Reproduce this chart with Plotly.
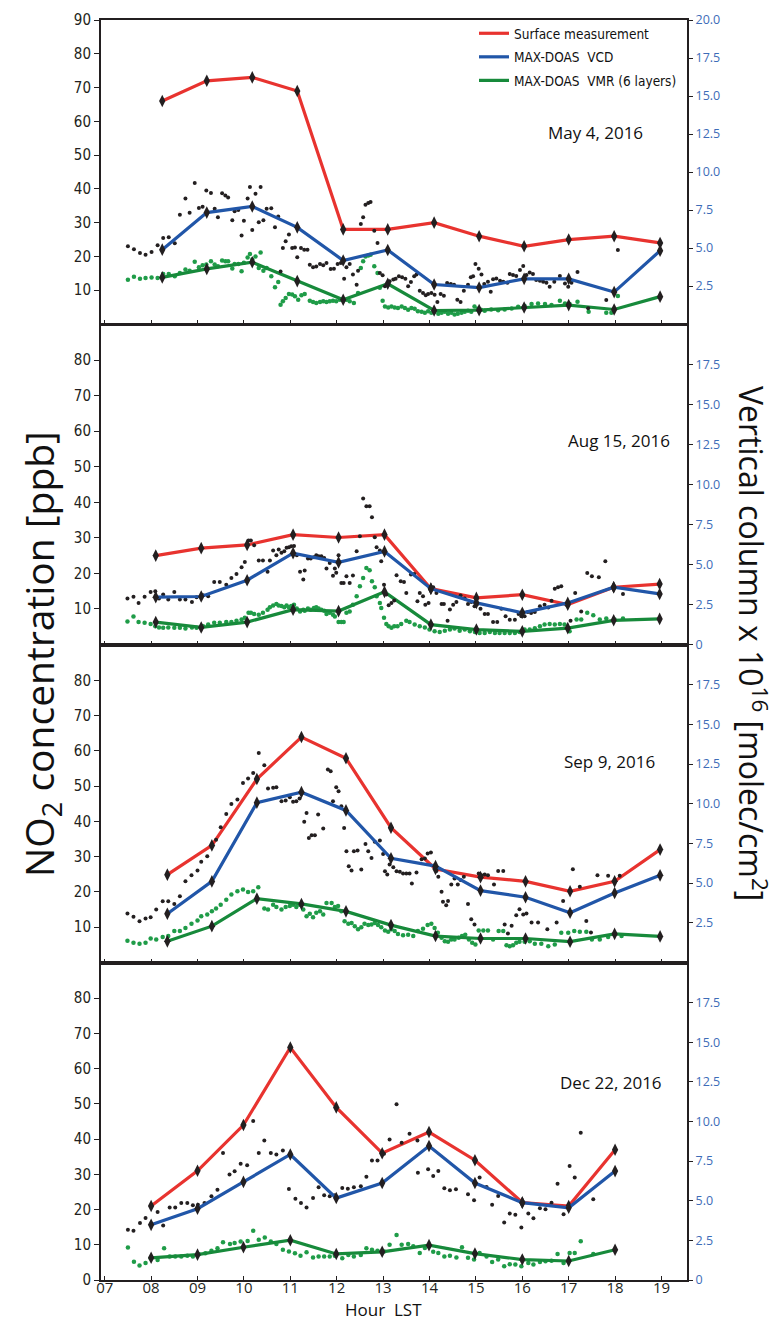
import plotly.graph_objects as go

# ---------------- data ----------------
HOUR_TICKS = list(range(7, 20))
HOUR_LABELS = [f"{h:02d}" for h in HOUR_TICKS]

PANEL_DATES = ["May 4, 2016", "Aug 15, 2016", "Sep 9, 2016", "Dec 22, 2016"]

# hourly means: surface NO2 (ppb), MAX-DOAS VCD (1e16 molec/cm2), MAX-DOAS VMR (ppb)
may_hours = [8.24, 9.20, 10.18, 11.15, 12.14, 13.10, 14.10, 15.07, 16.04, 17.00, 17.98, 18.97]
may_surface = [66, 72, 73, 69, 28, 28, 30, 26, 23, 25, 26, 24]
may_vcd = [4.89, 7.33, 7.73, 6.36, 4.18, 4.87, 2.60, 2.40, 2.97, 2.97, 2.10, 4.82]
may_vmr = [13.8, 16.3, 18.3, 12.7, 7.2, 11.9, 4.0, 4.1, 4.9, 5.6, 4.3, 8.1]

aug_hours = [8.10, 9.08, 10.07, 11.06, 12.04, 13.03, 14.03, 15.01, 16.00, 16.98, 17.97, 18.96]
aug_surface = [25.0, 27.1, 28.0, 30.9, 30.1, 30.9, 15.7, 13.1, 14.0, 11.2, 16.1, 17.0]
aug_vcd = [2.96, 3.00, 4.02, 5.71, 5.13, 5.82, 3.49, 2.60, 1.98, 2.60, 3.58, 3.16]
aug_vmr = [6.3, 4.8, 6.3, 9.8, 9.4, 14.8, 5.6, 4.2, 3.7, 4.6, 6.8, 7.2]

sep_hours = [8.35, 9.31, 10.28, 11.24, 12.20, 13.17, 14.13, 15.10, 16.07, 17.03, 17.99, 18.97]
sep_surface = [24.9, 33.2, 52.0, 63.9, 57.9, 38.2, 26.5, 24.2, 23.0, 20.2, 23.0, 32.0]
sep_vcd = [3.07, 5.11, 10.07, 10.73, 9.58, 6.56, 6.07, 4.53, 4.11, 3.13, 4.38, 5.49]
sep_vmr = [6.0, 10.3, 18.1, 16.6, 14.5, 10.6, 7.5, 6.8, 6.8, 5.9, 8.1, 7.4]

dec_hours = [8.00, 9.00, 9.99, 11.00, 11.99, 12.98, 13.99, 14.98, 16.00, 17.00, 18.00]
dec_surface = [21, 31, 44, 66, 49, 36, 42, 34, 22, 21, 37]
dec_vcd = [3.48, 4.50, 6.19, 7.92, 5.17, 6.12, 8.45, 6.12, 4.88, 4.56, 6.87]
dec_vmr = [6.3, 7.2, 9.3, 11.3, 7.4, 8.0, 9.9, 7.5, 5.8, 5.4, 8.6]

# individual MAX-DOAS measurements: (hour, VCD) and (hour, VMR ppb)
may_vcd_obs = [
    (7.50, 5.11), (7.63, 4.91), (7.76, 4.67), (7.88, 4.56), (8.01, 4.74), (8.14, 5.18), (8.26, 5.66), (8.38, 5.70),
    (8.51, 5.31), (8.62, 7.19), (8.74, 8.25), (8.83, 7.32), (8.94, 9.28), (9.03, 7.63), (9.11, 7.72), (9.19, 8.79),
    (9.29, 8.62), (9.37, 7.59), (9.44, 7.02), (9.53, 8.60), (9.60, 8.46), (9.66, 8.33), (9.75, 6.82), (9.80, 7.41),
    (9.88, 7.50), (9.95, 5.83), (10.00, 6.80), (10.08, 8.25), (10.13, 9.01), (10.18, 6.18), (10.25, 8.57), (10.32, 6.69),
    (10.36, 9.01), (10.42, 6.82), (10.49, 7.59), (10.59, 7.61), (10.67, 6.36), (10.74, 7.08), (10.79, 3.46), (10.84, 5.00),
    (10.90, 5.44), (10.97, 5.88), (11.04, 5.00), (11.10, 5.04), (11.15, 4.39), (11.23, 5.00), (11.30, 4.89), (11.37, 4.89),
    (11.42, 3.90), (11.49, 3.73), (11.56, 3.79), (11.64, 3.95), (11.71, 3.86), (11.78, 4.01), (11.87, 3.62), (11.94, 3.64),
    (12.02, 3.95), (12.09, 4.01), (12.16, 2.98), (12.21, 3.73), (12.28, 3.95), (12.35, 3.25), (12.43, 2.59), (12.46, 3.51),
    (12.52, 6.58), (12.57, 7.02), (12.62, 7.85), (12.68, 7.96), (12.73, 8.03), (12.81, 6.14), (12.88, 5.33), (12.93, 3.36),
    (12.99, 3.20), (13.04, 2.48), (13.09, 2.59), (13.14, 2.81), (13.22, 2.92), (13.27, 2.98), (13.34, 3.14), (13.41, 3.07),
    (13.48, 2.98), (13.54, 2.48), (13.60, 2.76), (13.67, 3.14), (13.72, 3.25), (13.79, 2.19), (13.86, 2.04), (13.92, 1.89),
    (13.97, 1.97), (14.04, 2.04), (14.11, 1.93), (14.17, 1.45), (14.24, 1.97), (14.31, 1.86), (14.38, 2.70), (14.46, 2.63),
    (14.53, 2.59), (14.60, 1.60), (14.67, 1.45), (14.74, 2.19), (14.83, 2.59), (14.89, 3.07), (14.94, 3.14), (14.99, 3.95),
    (15.06, 3.64), (15.12, 3.25), (15.18, 2.63), (15.26, 2.78), (15.32, 2.12), (15.37, 2.94), (15.44, 3.00), (15.52, 2.85),
    (15.59, 2.78), (15.68, 2.72), (15.73, 3.29), (15.80, 3.22), (15.87, 3.16), (15.95, 3.55), (16.02, 3.82), (16.09, 3.22),
    (16.16, 3.38), (16.23, 3.29), (16.30, 2.89), (16.38, 2.85), (16.45, 2.78), (16.52, 2.72), (16.59, 2.45), (16.69, 2.78),
    (16.81, 3.16), (16.92, 2.67), (16.99, 2.45), (17.06, 2.72), (17.19, 3.42), (17.42, 1.03), (17.81, 1.58), (18.06, 4.87),
]
may_vmr_obs = [
    (7.50, 13.1), (7.63, 14.0), (7.76, 13.4), (7.88, 13.6), (8.01, 13.8), (8.14, 13.6), (8.26, 14.8), (8.38, 14.8),
    (8.51, 14.1), (8.62, 15.1), (8.74, 16.1), (8.83, 15.8), (8.94, 18.4), (9.03, 16.8), (9.11, 17.4), (9.19, 17.6),
    (9.29, 18.6), (9.37, 17.6), (9.44, 17.1), (9.53, 18.8), (9.60, 18.6), (9.66, 18.6), (9.75, 16.4), (9.80, 17.8),
    (9.88, 17.8), (9.95, 15.6), (10.00, 18.1), (10.08, 19.7), (10.13, 20.7), (10.18, 19.1), (10.25, 20.0), (10.32, 16.6),
    (10.36, 21.2), (10.42, 15.8), (10.49, 16.6), (10.59, 14.1), (10.67, 10.9), (10.74, 12.4), (10.79, 5.7), (10.84, 6.7),
    (10.90, 7.7), (10.97, 8.9), (11.04, 8.7), (11.10, 8.2), (11.17, 7.2), (11.24, 8.5), (11.31, 8.9), (11.42, 6.9),
    (11.49, 6.5), (11.56, 6.2), (11.64, 6.5), (11.71, 6.7), (11.78, 6.5), (11.85, 6.7), (11.92, 6.9), (11.99, 6.7),
    (12.07, 7.2), (12.21, 7.2), (12.28, 6.7), (12.37, 6.2), (12.46, 9.2), (12.52, 16.6), (12.57, 18.6), (12.62, 20.0),
    (12.68, 20.3), (12.73, 20.5), (12.81, 17.1), (12.88, 15.1), (12.93, 10.7), (12.99, 6.9), (13.04, 5.2), (13.11, 4.9),
    (13.18, 5.2), (13.25, 4.9), (13.32, 4.7), (13.40, 5.2), (13.47, 4.7), (13.54, 4.2), (13.61, 4.7), (13.68, 4.5),
    (13.75, 3.8), (13.83, 3.6), (13.90, 3.3), (13.97, 3.8), (14.04, 3.3), (14.11, 3.6), (14.19, 3.0), (14.26, 3.3),
    (14.33, 3.6), (14.40, 3.0), (14.47, 3.3), (14.54, 2.8), (14.61, 3.0), (14.69, 3.3), (14.76, 3.6), (14.83, 3.9),
    (14.90, 3.6), (14.97, 5.2), (15.04, 4.5), (15.11, 4.2), (15.19, 3.9), (15.33, 4.3), (15.48, 4.1), (15.62, 4.3),
    (15.77, 4.6), (15.91, 5.1), (16.05, 5.3), (16.20, 5.9), (16.34, 6.1), (16.49, 5.9), (16.63, 5.6), (16.81, 6.9),
    (16.92, 6.1), (17.02, 5.9), (17.19, 6.6), (17.43, 3.6), (17.81, 3.3), (17.92, 3.3), (18.06, 8.3),
]

aug_vcd_obs = [
    (7.49, 2.87), (7.62, 2.99), (7.73, 2.60), (7.86, 2.99), (7.99, 3.28), (8.09, 3.33), (8.17, 2.87), (8.26, 3.12),
    (8.37, 2.81), (8.50, 3.28), (8.62, 2.81), (8.74, 2.81), (8.88, 2.66), (8.98, 2.95), (9.12, 3.08), (9.23, 3.02),
    (9.36, 3.91), (9.48, 3.91), (9.62, 3.74), (9.73, 4.16), (9.84, 4.41), (9.95, 4.83), (10.02, 5.16), (10.10, 6.50),
    (10.15, 6.50), (10.22, 6.21), (10.32, 5.25), (10.41, 5.25), (10.51, 4.54), (10.56, 5.25), (10.63, 5.87), (10.70, 5.58),
    (10.75, 5.94), (10.81, 5.73), (10.87, 5.83), (10.92, 6.04), (10.97, 6.08), (11.02, 6.14), (11.08, 6.16), (11.14, 5.58),
    (11.21, 4.54), (11.28, 4.06), (11.31, 4.62), (11.38, 5.37), (11.44, 5.37), (11.51, 5.46), (11.56, 5.58), (11.61, 5.52),
    (11.67, 5.52), (11.73, 5.41), (11.78, 4.75), (11.85, 5.10), (11.92, 4.29), (11.96, 4.75), (11.99, 4.48), (12.04, 5.58),
    (12.10, 3.85), (12.15, 3.85), (12.21, 4.27), (12.28, 3.85), (12.35, 4.31), (12.43, 5.83), (12.50, 6.77), (12.57, 9.12),
    (12.64, 8.64), (12.71, 8.64), (12.76, 7.96), (12.82, 6.71), (12.86, 6.08), (12.93, 5.87), (12.96, 5.20), (13.02, 3.74),
    (13.07, 3.12), (13.12, 2.45), (13.18, 2.60), (13.24, 2.75), (13.29, 4.33), (13.38, 3.95), (13.45, 3.91), (13.50, 3.22),
    (13.60, 4.37), (13.67, 4.41), (13.74, 2.70), (13.79, 3.22), (13.86, 3.01), (13.91, 2.49), (13.98, 2.60), (14.08, 3.58),
    (14.15, 3.22), (14.26, 2.53), (14.31, 2.53), (14.39, 1.49), (14.44, 2.18), (14.51, 2.49), (14.58, 2.66), (14.67, 3.07),
    (14.76, 2.87), (14.83, 2.53), (14.90, 2.66), (14.97, 2.39), (15.03, 2.53), (15.10, 2.24), (15.19, 1.91), (15.26, 1.91),
    (15.37, 1.41), (15.46, 1.41), (15.55, 2.24), (15.64, 1.76), (15.73, 1.55), (15.84, 1.55), (15.92, 1.91), (15.98, 1.76),
    (16.05, 1.76), (16.12, 2.03), (16.19, 1.97), (16.27, 2.03), (16.38, 2.39), (16.48, 2.49), (16.56, 2.32), (16.63, 2.74),
    (16.70, 3.49), (16.77, 3.58), (16.84, 3.64), (16.95, 2.49), (17.04, 1.49), (17.14, 3.22), (17.27, 2.07), (17.40, 4.47),
    (17.50, 4.26), (17.65, 4.20), (17.79, 5.20), (18.17, 3.16),
]
aug_vmr_obs = [
    (7.49, 6.5), (7.62, 7.9), (7.73, 6.3), (7.86, 6.1), (7.99, 5.8), (8.09, 5.1), (8.17, 4.8), (8.26, 4.7),
    (8.37, 4.8), (8.50, 4.7), (8.62, 4.7), (8.74, 4.5), (8.88, 4.8), (8.98, 4.7), (9.12, 5.1), (9.23, 5.6),
    (9.36, 6.1), (9.48, 6.1), (9.62, 6.3), (9.73, 6.3), (9.84, 6.7), (9.95, 7.0), (10.02, 7.5), (10.10, 8.9),
    (10.15, 8.9), (10.22, 8.6), (10.32, 8.4), (10.41, 8.9), (10.51, 9.8), (10.56, 10.5), (10.63, 11.0), (10.70, 11.4),
    (10.75, 11.0), (10.81, 10.8), (10.87, 10.5), (10.92, 11.0), (10.97, 10.5), (11.02, 10.8), (11.08, 11.2), (11.14, 10.1),
    (11.21, 9.3), (11.28, 9.8), (11.31, 9.5), (11.38, 10.1), (11.44, 9.8), (11.51, 10.3), (11.56, 10.5), (11.61, 10.1),
    (11.67, 9.8), (11.73, 9.5), (11.78, 8.6), (11.85, 8.9), (11.92, 8.4), (11.96, 7.9), (12.04, 6.3), (12.10, 6.3),
    (12.15, 6.3), (12.21, 8.9), (12.28, 9.3), (12.35, 11.2), (12.43, 13.6), (12.50, 16.4), (12.57, 18.7), (12.64, 21.5),
    (12.71, 20.9), (12.76, 17.8), (12.82, 16.1), (12.86, 13.6), (12.93, 11.7), (12.96, 10.3), (13.02, 7.5), (13.07, 5.8),
    (13.12, 5.1), (13.18, 4.7), (13.24, 5.1), (13.31, 5.1), (13.39, 5.8), (13.50, 6.7), (13.57, 6.3), (13.68, 5.6),
    (13.79, 5.1), (13.90, 4.8), (14.00, 4.2), (14.11, 3.7), (14.22, 3.5), (14.33, 3.9), (14.44, 4.2), (14.54, 4.5),
    (14.65, 3.9), (14.76, 4.2), (14.87, 3.7), (14.98, 3.5), (15.08, 3.2), (15.19, 3.2), (15.30, 3.5), (15.41, 3.2),
    (15.51, 3.2), (15.62, 3.2), (15.73, 3.2), (15.84, 3.2), (15.94, 3.5), (16.05, 4.2), (16.16, 4.2), (16.27, 4.6),
    (16.38, 5.1), (16.48, 5.6), (16.59, 5.8), (16.70, 5.6), (16.81, 5.8), (16.91, 5.6), (17.02, 3.7), (17.17, 7.0),
    (17.27, 7.0), (17.40, 8.9), (17.53, 8.2), (17.67, 7.0), (17.81, 7.3), (17.99, 7.0), (18.17, 7.3),
]

sep_vcd_obs = [
    (7.49, 3.08), (7.62, 2.88), (7.75, 2.60), (7.88, 2.77), (7.99, 2.85), (8.11, 3.34), (8.25, 3.86), (8.37, 3.86),
    (8.50, 3.69), (8.62, 4.18), (8.74, 5.12), (8.87, 5.50), (9.00, 5.79), (9.08, 6.34), (9.21, 6.69), (9.31, 7.43),
    (9.40, 7.74), (9.50, 8.52), (9.62, 9.36), (9.73, 9.99), (9.86, 10.26), (9.98, 11.31), (10.09, 11.59), (10.20, 11.94),
    (10.32, 13.20), (10.44, 12.43), (10.52, 10.96), (10.63, 11.00), (10.70, 11.04), (10.81, 10.16), (10.90, 10.20), (10.99, 10.41),
    (11.06, 10.12), (11.13, 10.16), (11.20, 10.33), (11.30, 8.86), (11.35, 9.42), (11.40, 7.85), (11.46, 8.02), (11.53, 8.02),
    (11.60, 9.32), (11.71, 8.44), (11.81, 12.15), (11.87, 12.05), (11.92, 10.16), (11.99, 11.04), (12.04, 10.79), (12.10, 9.84),
    (12.16, 8.48), (12.21, 7.01), (12.26, 6.07), (12.32, 5.79), (12.37, 7.01), (12.45, 7.05), (12.53, 5.86), (12.62, 7.47),
    (12.68, 7.01), (12.75, 6.59), (12.82, 7.60), (12.93, 7.68), (13.00, 6.84), (13.04, 5.75), (13.09, 5.54), (13.14, 6.17),
    (13.22, 6.00), (13.29, 5.75), (13.36, 5.71), (13.43, 5.61), (13.50, 5.61), (13.57, 5.61), (13.62, 4.98), (13.72, 5.67),
    (13.83, 6.51), (13.90, 6.55), (13.96, 6.87), (14.03, 6.93), (14.11, 6.13), (14.15, 5.76), (14.19, 5.40), (14.26, 4.45),
    (14.29, 3.82), (14.36, 3.61), (14.40, 3.87), (14.47, 4.92), (14.54, 5.29), (14.61, 4.92), (14.67, 5.19), (14.74, 5.40),
    (14.83, 3.68), (14.90, 2.73), (14.97, 2.39), (15.06, 5.61), (15.12, 5.50), (15.19, 5.55), (15.26, 5.50), (15.39, 4.92),
    (15.48, 5.76), (15.59, 5.76), (15.62, 2.39), (15.69, 1.83), (15.77, 2.31), (15.87, 2.98), (15.94, 3.36), (16.02, 3.03),
    (16.09, 3.09), (16.20, 2.52), (16.34, 2.52), (16.54, 2.10), (16.74, 2.52), (16.88, 3.87), (17.09, 5.88), (17.24, 4.77),
    (17.38, 2.61), (17.48, 1.89), (17.62, 5.50), (17.85, 5.46), (18.10, 5.46),
]
sep_vmr_obs = [
    (7.49, 6.2), (7.62, 5.6), (7.75, 5.3), (7.88, 5.6), (7.99, 6.8), (8.11, 6.5), (8.25, 7.2), (8.37, 7.5),
    (8.50, 8.9), (8.62, 8.9), (8.74, 9.8), (8.87, 11.0), (9.00, 11.9), (9.08, 13.1), (9.21, 13.6), (9.31, 14.5),
    (9.40, 15.3), (9.50, 16.4), (9.62, 17.8), (9.73, 19.3), (9.86, 20.2), (9.98, 20.7), (10.09, 20.0), (10.20, 20.2),
    (10.31, 21.3), (10.44, 15.3), (10.52, 15.0), (10.63, 16.4), (10.70, 15.7), (10.81, 15.0), (10.90, 15.7), (10.99, 16.0),
    (11.06, 16.4), (11.13, 15.7), (11.20, 16.4), (11.28, 15.0), (11.35, 13.1), (11.42, 13.8), (11.49, 12.8), (11.56, 14.1),
    (11.64, 14.5), (11.71, 13.6), (11.78, 16.9), (11.89, 16.9), (11.96, 15.7), (12.03, 16.0), (12.10, 14.5), (12.17, 11.7),
    (12.25, 11.0), (12.32, 11.2), (12.39, 10.3), (12.46, 9.4), (12.53, 10.0), (12.60, 11.0), (12.68, 10.6), (12.75, 10.8),
    (12.82, 11.2), (12.89, 10.6), (12.96, 10.0), (13.04, 9.1), (13.11, 8.7), (13.18, 9.4), (13.25, 8.9), (13.32, 8.1),
    (13.43, 7.7), (13.54, 7.9), (13.65, 7.5), (13.75, 8.9), (13.86, 9.6), (13.96, 10.6), (14.04, 11.0), (14.11, 9.8),
    (14.18, 8.4), (14.26, 7.0), (14.33, 6.0), (14.40, 5.9), (14.47, 6.5), (14.54, 6.5), (14.63, 7.0), (14.70, 7.5),
    (14.77, 7.9), (14.85, 6.5), (14.92, 5.6), (14.99, 5.1), (15.06, 9.1), (15.16, 9.1), (15.26, 9.1), (15.37, 6.5),
    (15.49, 8.9), (15.59, 8.9), (15.66, 4.9), (15.73, 4.6), (15.80, 4.9), (15.87, 5.6), (15.94, 5.9), (16.05, 5.9),
    (16.16, 6.0), (16.27, 5.3), (16.41, 5.3), (16.56, 4.6), (16.70, 5.1), (16.84, 8.4), (16.99, 8.4), (17.12, 8.9),
    (17.24, 8.7), (17.38, 8.7), (17.50, 6.5), (17.67, 6.5), (17.85, 7.2), (18.14, 7.5),
]

dec_vcd_obs = [
    (7.50, 3.17), (7.62, 3.10), (7.76, 3.59), (7.88, 3.91), (7.99, 3.48), (8.14, 4.29), (8.26, 3.44), (8.40, 4.58),
    (8.52, 4.58), (8.65, 4.86), (8.78, 4.86), (8.90, 4.71), (9.01, 4.75), (9.15, 4.86), (9.30, 5.28), (9.43, 5.70),
    (9.55, 8.02), (9.69, 6.65), (9.80, 6.86), (9.93, 7.33), (10.07, 7.24), (10.20, 10.03), (10.32, 8.02), (10.44, 8.80),
    (10.58, 8.02), (10.70, 7.92), (10.84, 8.17), (10.97, 5.74), (11.11, 5.13), (11.23, 4.86), (11.35, 4.58), (11.49, 5.17),
    (11.61, 5.85), (11.73, 5.34), (11.85, 5.28), (11.96, 5.34), (12.12, 5.81), (12.24, 5.76), (12.37, 5.85), (12.52, 5.91),
    (12.64, 6.52), (12.76, 7.54), (12.88, 7.54), (13.02, 7.96), (13.14, 8.87), (13.29, 11.09), (13.40, 8.66), (13.57, 9.22),
    (13.74, 8.80), (13.75, 6.77), (13.97, 6.98), (14.08, 6.56), (14.19, 6.87), (14.32, 5.79), (14.44, 5.66), (14.57, 5.72),
    (14.83, 5.41), (14.96, 5.03), (15.08, 6.46), (15.23, 5.87), (15.35, 4.74), (15.48, 5.30), (15.61, 3.63), (15.73, 4.19),
    (15.85, 4.11), (15.98, 3.31), (16.13, 4.19), (16.24, 3.90), (16.38, 4.53), (16.50, 4.46), (16.63, 4.88), (16.76, 6.08),
    (16.89, 4.15), (17.02, 7.19), (17.13, 6.46), (17.26, 9.29), (17.53, 5.09),
]
dec_vmr_obs = [
    (7.50, 9.2), (7.63, 5.2), (7.75, 4.1), (7.88, 4.8), (7.99, 6.2), (8.14, 5.7), (8.28, 9.0), (8.40, 6.7),
    (8.52, 6.7), (8.65, 6.7), (8.78, 6.9), (8.90, 6.7), (9.03, 7.3), (9.17, 7.6), (9.30, 8.3), (9.43, 9.0),
    (9.55, 10.7), (9.70, 10.2), (9.80, 10.5), (9.93, 10.9), (10.08, 11.1), (10.20, 14.0), (10.32, 11.4), (10.45, 12.1),
    (10.58, 10.9), (10.70, 10.2), (10.84, 8.6), (10.97, 8.1), (11.10, 7.6), (11.22, 6.9), (11.35, 7.9), (11.49, 6.4),
    (11.61, 6.7), (11.73, 6.7), (11.85, 6.7), (11.96, 6.9), (12.12, 6.2), (12.25, 7.1), (12.37, 6.7), (12.52, 7.1),
    (12.64, 9.0), (12.76, 8.6), (12.88, 8.3), (13.02, 8.1), (13.14, 10.0), (13.29, 12.8), (13.40, 10.0), (13.54, 10.2),
    (13.65, 9.6), (13.79, 7.7), (13.90, 9.1), (13.98, 9.6), (14.08, 8.0), (14.19, 7.7), (14.32, 6.7), (14.44, 6.9),
    (14.58, 6.4), (14.70, 9.3), (14.83, 6.3), (14.96, 5.8), (15.08, 7.7), (15.23, 6.7), (15.35, 5.1), (15.48, 5.8),
    (15.61, 3.9), (15.73, 4.5), (15.85, 4.4), (15.98, 3.9), (16.13, 4.8), (16.24, 4.4), (16.38, 5.1), (16.50, 5.3),
    (16.63, 5.5), (16.76, 7.4), (16.89, 4.8), (17.02, 7.7), (17.13, 7.7), (17.26, 11.0), (17.53, 7.4),
]

LEFT_TICKS = [list(range(10, 91, 10)), list(range(10, 81, 10)), list(range(10, 81, 10)), list(range(0, 81, 10))]
RIGHT_TICKS = [
    [2.5, 5.0, 7.5, 10.0, 12.5, 15.0, 17.5, 20.0],
    [0, 2.5, 5.0, 7.5, 10.0, 12.5, 15.0, 17.5],
    [2.5, 5.0, 7.5, 10.0, 12.5, 15.0, 17.5],
    [0, 2.5, 5.0, 7.5, 10.0, 12.5, 15.0, 17.5],
]

# ---------------- styling / layout ----------------
W, H = 778, 1320
X_PX = (93, 679)
PANEL_PX = [(12, 316), (316.5, 636.5), (637, 954.5), (955, 1272)]
DATE_POS = [(637, 124), (664, 433), (649, 753), (656, 1074)]

RED = "#e8332f"
BLUE = "#2156a8"
GREEN = "#178a3b"
GREEN_DOT = "#1f9c48"
DOT = "#231f20"
AXIS = "#231f20"
RTICK = "#3d6cb8"

NARROW = "DejaVu Sans Condensed, Roboto Condensed, Roboto, Liberation Sans, sans-serif"
HUMAN = "Open Sans, Liberation Sans, sans-serif"

panels = [
    (may_hours, may_surface, may_vcd, may_vmr, may_vcd_obs, may_vmr_obs),
    (aug_hours, aug_surface, aug_vcd, aug_vmr, aug_vcd_obs, aug_vmr_obs),
    (sep_hours, sep_surface, sep_vcd, sep_vmr, sep_vcd_obs, sep_vmr_obs),
    (dec_hours, dec_surface, dec_vcd, dec_vmr, dec_vcd_obs, dec_vmr_obs),
]


def ax(prefix, n):
    return prefix if n == 1 else f"{prefix}{n}"


fig = go.Figure()
layout = {}

for i, (hrs, surf, vcd, vmr, vcd_obs, vmr_obs) in enumerate(panels):
    xa = ax("x", i + 1)
    yl = ax("y", 2 * i + 1)
    yr = ax("y", 2 * i + 2)
    first = i == 0

    # individual observations
    fig.add_trace(go.Scatter(
        x=[p[0] for p in vmr_obs], y=[p[1] for p in vmr_obs], mode="markers",
        marker=dict(color=GREEN_DOT, size=4.5), xaxis=xa, yaxis=yl, showlegend=False, hoverinfo="skip"))
    fig.add_trace(go.Scatter(
        x=[p[0] for p in vcd_obs], y=[p[1] for p in vcd_obs], mode="markers",
        marker=dict(color=DOT, size=4), xaxis=xa, yaxis=yr, showlegend=False, hoverinfo="skip"))

    # hourly mean lines
    fig.add_trace(go.Scatter(x=hrs, y=surf, mode="lines", line=dict(color=RED, width=3.2),
                             name="Surface measurement", legendgroup="a", showlegend=first,
                             xaxis=xa, yaxis=yl))
    fig.add_trace(go.Scatter(x=hrs, y=vcd, mode="lines", line=dict(color=BLUE, width=3.2),
                             name="MAX-DOAS\u00a0 VCD", legendgroup="b", showlegend=first,
                             xaxis=xa, yaxis=yr))
    fig.add_trace(go.Scatter(x=hrs, y=vmr, mode="lines", line=dict(color=GREEN, width=3.2),
                             name="MAX-DOAS\u00a0 VMR (6 layers)", legendgroup="c", showlegend=first,
                             xaxis=xa, yaxis=yl))
    # diamond markers
    dmk = dict(symbol="diamond-tall", color=DOT, size=9, line=dict(width=0))
    fig.add_trace(go.Scatter(x=hrs, y=surf, mode="markers", marker=dmk, xaxis=xa, yaxis=yl, showlegend=False))
    fig.add_trace(go.Scatter(x=hrs, y=vcd, mode="markers", marker=dmk, xaxis=xa, yaxis=yr, showlegend=False))
    fig.add_trace(go.Scatter(x=hrs, y=vmr, mode="markers", marker=dmk, xaxis=xa, yaxis=yl, showlegend=False))

    top, bot = PANEL_PX[i]
    ydom = [1 - bot / H, 1 - top / H]
    last = i == len(panels) - 1
    layout[ax("xaxis", i + 1)] = dict(
        domain=[X_PX[0] / W, X_PX[1] / W], range=[6.92, 19.55], anchor=yl,
        tickvals=HOUR_TICKS, ticktext=HOUR_LABELS, showticklabels=last,
        ticks="inside", ticklen=4, tickwidth=1.2, tickcolor=AXIS,
        showline=True, linecolor=AXIS, linewidth=1.6, mirror=True,
        showgrid=False, zeroline=False, automargin=False, ticklabelstandoff=-7,
        tickfont=dict(family=HUMAN, size=15, color=AXIS),
    )
    layout[ax("yaxis", 2 * i + 1)] = dict(
        domain=ydom, range=[0, 90], anchor=xa,
        tickvals=LEFT_TICKS[i], ticks="outside", ticklen=5, tickwidth=1.2, tickcolor=AXIS,
        showline=True, linecolor=AXIS, linewidth=2,
        showgrid=False, zeroline=False, automargin=False,
        tickfont=dict(family=NARROW, size=15, color=AXIS),
    )
    layout[ax("yaxis", 2 * i + 2)] = dict(
        range=[0, 20], overlaying=yl, side="right", anchor=xa,
        tickvals=RIGHT_TICKS[i], ticktext=["0" if v == 0 else f"{v:.1f}" for v in RIGHT_TICKS[i]],
        ticks="outside", ticklen=4, tickwidth=1.2, tickcolor=AXIS,
        showline=True, linecolor=AXIS, linewidth=2,
        showgrid=False, zeroline=False, automargin=False,
        tickfont=dict(family=HUMAN, size=12.5, color=RTICK),
    )

annotations = []
for (dx, dy), label in zip(DATE_POS, PANEL_DATES):
    annotations.append(dict(text=label, x=dx / W, y=1 - dy / H, xref="paper", yref="paper",
                            xanchor="right", yanchor="middle", showarrow=False,
                            font=dict(family=HUMAN, size=17, color="#111")))
annotations.append(dict(text="NO<sub>2</sub> concentration [ppb]", x=33 / W, y=1 - 646 / H,
                        xref="paper", yref="paper", textangle=-90, showarrow=False,
                        xanchor="center", yanchor="middle",
                        font=dict(family=HUMAN, size=39, color="#111")))
annotations.append(dict(text="Vertical column x 10<sup>16</sup> [molec/cm<sup>2</sup>]", x=745 / W, y=1 - 635 / H,
                        xref="paper", yref="paper", textangle=90, showarrow=False,
                        xanchor="center", yanchor="middle",
                        font=dict(family=HUMAN, size=32, color="#111")))
annotations.append(dict(text="Hour\u00a0\u00a0LST", x=375 / W, y=1 - 1301 / H, xref="paper", yref="paper",
                        showarrow=False, xanchor="center", yanchor="middle",
                        font=dict(family=HUMAN, size=17, color="#111")))

fig.update_layout(
    width=W, height=H,
    margin=dict(l=0, r=0, t=0, b=0),
    paper_bgcolor="white", plot_bgcolor="white",
    template="none",
    showlegend=True,
    legend=dict(x=466 / W, y=1 - 10 / H, xanchor="left", yanchor="top",
                bgcolor="rgba(0,0,0,0)", borderwidth=0, tracegroupgap=3, itemwidth=30,
                font=dict(family=NARROW, size=13.5, color="#111")),
    annotations=annotations,
    **layout,
)

fig.write_html("out.html")
